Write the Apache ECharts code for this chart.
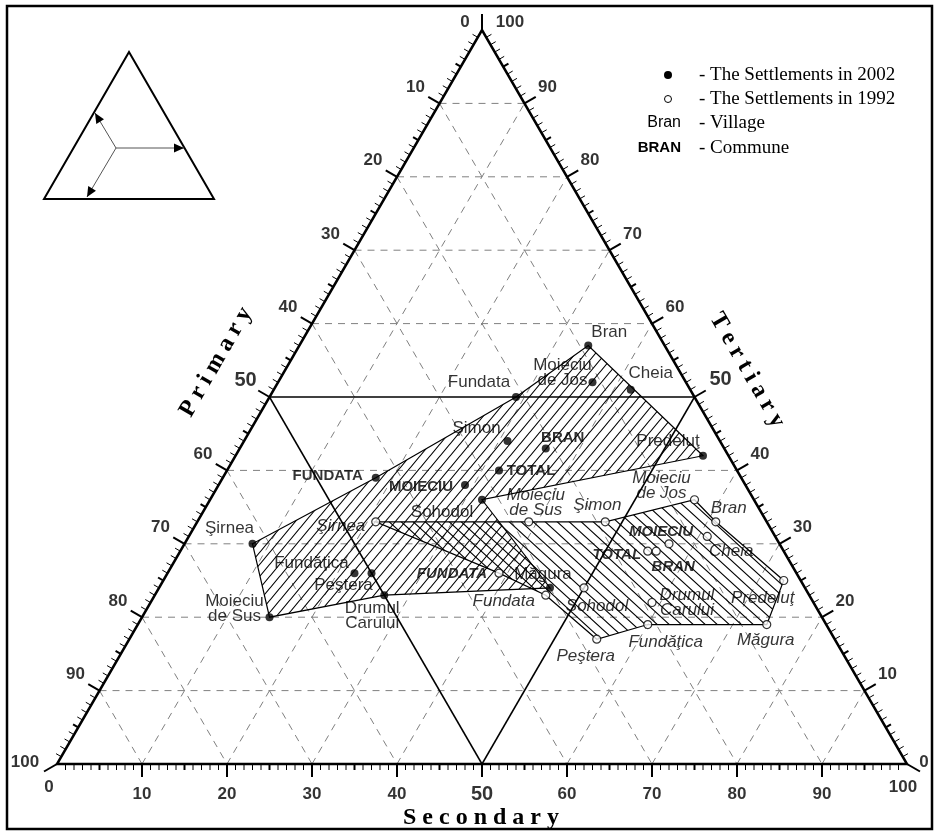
<!DOCTYPE html>
<html>
<head>
<meta charset="utf-8">
<title>Bran area settlements - ternary diagram</title>
<script src="https://cdn.jsdelivr.net/npm/echarts@6/dist/echarts.min.js"></script>
<style>
html,body{margin:0;padding:0;background:#fff;}
#chart{width:934px;height:832px;}
</style>
</head>
<body>
<div id="chart"></div>
<script>
// settlements in 2002 (share of active population, %)
var names2002 = ['Bran','Moieciu de Jos','Cheia','Fundata','Şimon','Predeluţ','Sohodol','Măgura','Drumul Carului','Peştera','Fundăţica','Moieciu de Sus','Şirnea','FUNDATA','MOIECIU','BRAN','TOTAL'];
var primary2002 = [9,11,7,21,25,3,32,30,50,50,52,65,62,43,33,21,28];
var secondary2002 = [34,37,42,29,31,55,32,46,27,24,22,15,8,18,29,36,32];
var tertiary2002 = [57,52,51,50,44,42,36,24,23,26,26,20,30,39,38,43,40];

// settlements in 1992
var names1992 = ['Şirnea','Moieciu de Sus','Şimon','Moieciu de Jos','Bran','Cheia','MOIECIU','TOTAL','BRAN','Predeluţ','Drumul Carului','Măgura','Fundăţica','Peştera','Sohodol','Fundata','FUNDATA'];
var primary1992 = [46,28,19,7,6,8,13,16,15,2,19,7,21,28,26,31,35];
var secondary1992 = [21,39,48,57,61,61,57,55,56,73,59,74,60,55,50,46,39];
var tertiary1992 = [33,33,33,36,33,31,30,29,29,25,22,19,19,17,24,23,26];

// outline of each cloud of points
var hull2002 = ['Fundata','Bran','Predeluţ','Sohodol','Măgura','Drumul Carului','Moieciu de Sus','Şirnea','FUNDATA'];
var hull1992 = ['Şirnea','Moieciu de Sus','Şimon','Moieciu de Jos','Bran','Predeluţ','Măgura','Fundăţica','Peştera','Fundata','FUNDATA'];

var gridValues = [10,20,30,40,50,60,70,80,90];
var tickValues = [10,20,30,40,50,60,70,80,90];

// label placement (pixels from the point)
var labelAt2002 = {
  'Bran':[21,-13], 'Moieciu de Jos':[-30,-10], 'Cheia':[20,-16], 'Fundata':[-37,-15],
  'Şimon':[-31,-13], 'Predeluţ':[-35,-14], 'Sohodol':[-40,13], 'Măgura':[-7,-14],
  'Drumul Carului':[-12,21], 'Peştera':[-28,12], 'Fundăţica':[-43,-10], 'Moieciu de Sus':[-35,-8],
  'Şirnea':[-23,-15], 'FUNDATA':[-48,-2], 'MOIECIU':[-44,2], 'BRAN':[17,-11], 'TOTAL':[32,0]
};
var labelAt1992 = {
  'Şirnea':[-35,4], 'Moieciu de Sus':[7,-19], 'Şimon':[-8,-17], 'Moieciu de Jos':[-33,-14],
  'Bran':[13,-14], 'Cheia':[24,15], 'MOIECIU':[-8,-12], 'TOTAL':[-31,4], 'BRAN':[17,16],
  'Predeluţ':[-21,18], 'Drumul Carului':[35,0], 'Măgura':[-1,16], 'Fundăţica':[18,18],
  'Peştera':[-11,17], 'Sohodol':[13,18], 'Fundata':[-42,6], 'FUNDATA':[-47,1]
};

var SANS = '"Liberation Sans", Arial, sans-serif';
var SERIF = '"Liberation Serif", "Times New Roman", serif';
var SQ = Math.sqrt(3) / 2;

// ternary (secondary, tertiary) -> cartesian
function tern(s, t) {
  return [s + t / 2, t * SQ];
}

function hatch(w, h, rising) {
  var c = document.createElement('canvas');
  c.width = w; c.height = h;
  var g = c.getContext('2d');
  g.strokeStyle = '#000';
  g.lineWidth = 1.1;
  g.beginPath();
  for (var k = -1; k <= 1; k++) {
    var dx = k * w;
    if (rising) {
      g.moveTo(-w + dx, 2 * h); g.lineTo(2 * w + dx, -h);
    } else {
      g.moveTo(-w + dx, -h); g.lineTo(2 * w + dx, 2 * h);
    }
  }
  g.stroke();
  return c;
}
var hatch2002 = hatch(10, 12, true);
var hatch1992 = hatch(12, 11, false);

function drawFrame(params, api) {
  var kids = [];
  function at(s, t) { return api.coord(tern(s, t)); }
  function line(a, b, style) {
    kids.push({ type: 'line', shape: { x1: a[0], y1: a[1], x2: b[0], y2: b[1] }, style: style });
  }
  var dashed = { stroke: '#808080', lineWidth: 1, lineDash: [7, 6] };
  var solid = { stroke: '#000', lineWidth: 1.5 };
  gridValues.forEach(function (k) {
    if (k === 50) {
      line(at(0, 50), at(50, 50), solid);
      line(at(0, 50), at(50, 0), solid);
      line(at(50, 0), at(50, 50), solid);
    } else {
      line(at(0, k), at(100 - k, k), dashed);
      line(at(0, 100 - k), at(100 - k, 0), dashed);
      line(at(k, 0), at(k, 100 - k), dashed);
    }
  });
  for (var i = 1; i < 100; i++) {
    var len = i % 10 === 0 ? 13 : 6;
    var st = { stroke: '#000', lineWidth: i % 5 === 0 ? 2 : 1 };
    var b = at(i, 0);
    line(b, [b[0], b[1] + len], st);
    var l = at(0, 100 - i);
    line(l, [l[0] - len * SQ, l[1] - len / 2], st);
    var r = at(100 - i, i);
    line(r, [r[0] + len * SQ, r[1] - len / 2], st);
  }
  var A = at(0, 0), B = at(100, 0), C = at(0, 100);
  var vt = { stroke: '#000', lineWidth: 2 };
  line(C, [C[0], C[1] - 16], vt);
  line(A, [A[0] - 15 * SQ, A[1] + 7.5], vt);
  line(B, [B[0] + 15 * SQ, B[1] + 7.5], vt);
  kids.push({ type: 'polygon', shape: { points: [A, B, C] }, style: { fill: 'none', stroke: '#000', lineWidth: 2.5 } });
  return { type: 'group', children: kids };
}

function hullSeries(names, hull, S, T, pattern) {
  return {
    type: 'custom',
    coordinateSystem: 'cartesian2d',
    silent: true,
    z: 2,
    data: [[0, 0]],
    renderItem: function (params, api) {
      var pts = hull.map(function (n) {
        var i = names.indexOf(n);
        return api.coord(tern(S[i], T[i]));
      });
      return {
        type: 'polygon',
        shape: { points: pts },
        style: { fill: { image: pattern, repeat: 'repeat' }, stroke: '#000', lineWidth: 1.2 }
      };
    }
  };
}

function pointSeries(name, names, S, T, offsets, filled) {
  return {
    type: 'scatter',
    name: name,
    symbol: 'circle',
    symbolSize: 8,
    z: 5,
    itemStyle: filled ? { color: '#000' } : { color: '#fff', borderColor: '#000', borderWidth: 1.2 },
    label: {
      show: true,
      position: 'inside',
      color: '#000',
      fontFamily: SANS,
      fontStyle: filled ? 'normal' : 'italic',
      lineHeight: 15,
      formatter: function (p) { return p.name.replace(' ', '\n'); }
    },
    data: names.map(function (n, i) {
      var commune = n === n.toUpperCase();
      return {
        name: n,
        value: tern(S[i], T[i]),
        label: { offset: offsets[n], fontWeight: commune ? 'bold' : 'normal', fontSize: commune ? 15 : 17 }
      };
    })
  };
}

var axisLabels = [];
function tickLabel(text, pos, off, big) {
  axisLabels.push({ name: text, value: pos, label: { offset: off, fontSize: big ? 20 : 17 } });
}
tickValues.forEach(function (k) {
  tickLabel(String(k), tern(k, 0), [0, 30], k === 50);
  tickLabel(String(k), tern(0, 100 - k), k === 50 ? [-24, -17] : [-24, -16], k === 50);
  tickLabel(String(k), tern(100 - k, k), k === 50 ? [26, -18] : [23, -16], k === 50);
});
tickLabel('0', tern(0, 0), [-8, 23]);
tickLabel('100', tern(100, 0), [-4, 23]);
tickLabel('100', tern(0, 0), [-32, -2]);
tickLabel('0', tern(100, 0), [17, -2]);
tickLabel('0', tern(0, 100), [-17, -8]);
tickLabel('100', tern(0, 100), [28, -8]);

function arrowHead(from, tip) {
  var dx = tip[0] - from[0], dy = tip[1] - from[1];
  var d = Math.sqrt(dx * dx + dy * dy);
  var ux = dx / d, uy = dy / d;
  var bx = tip[0] - ux * 10, by = tip[1] - uy * 10;
  return {
    type: 'polygon',
    shape: { points: [tip, [bx - uy * 4.5, by + ux * 4.5], [bx + uy * 4.5, by - ux * 4.5]] },
    style: { fill: '#000' }
  };
}

var insetCenter = [116, 148];
var insetTips = [[184, 148], [95, 113], [87, 197]];
var inset = [{
  type: 'polygon',
  shape: { points: [[44, 199], [214, 199], [129, 52]] },
  style: { fill: 'none', stroke: '#000', lineWidth: 2 }
}];
insetTips.forEach(function (tip) {
  inset.push({ type: 'line', shape: { x1: insetCenter[0], y1: insetCenter[1], x2: tip[0], y2: tip[1] }, style: { stroke: '#555', lineWidth: 1 } });
  inset.push(arrowHead(insetCenter, tip));
});

var legendRows = [
  { y: 75, mark: 'dot', text: '- The Settlements in 2002' },
  { y: 99, mark: 'ring', text: '- The Settlements in 1992' },
  { y: 123, mark: 'Bran', text: '- Village' },
  { y: 148, mark: 'BRAN', text: '- Commune' }
];
var legend = [];
legendRows.forEach(function (r) {
  if (r.mark === 'dot') {
    legend.push({ type: 'circle', shape: { cx: 668, cy: r.y, r: 4 }, style: { fill: '#000' } });
  } else if (r.mark === 'ring') {
    legend.push({ type: 'circle', shape: { cx: 668, cy: r.y, r: 3.5 }, style: { fill: '#fff', stroke: '#000', lineWidth: 1 } });
  } else {
    legend.push({ type: 'text', x: 681, y: r.y, style: { text: r.mark, align: 'right', verticalAlign: 'middle', fontFamily: SANS, fontSize: r.mark === 'BRAN' ? 15 : 16, fontWeight: r.mark === 'BRAN' ? 'bold' : 'normal', fill: '#000' } });
  }
  legend.push({ type: 'text', x: 699, y: r.y, style: { text: r.text, align: 'left', verticalAlign: 'middle', fontFamily: SERIF, fontSize: 19, fill: '#000' } });
});

var titles = [
  { type: 'text', x: 481, y: 818, style: { text: 'S e c o n d a r y', align: 'center', verticalAlign: 'middle', fontFamily: SERIF, fontWeight: 'bold', fontSize: 24, fill: '#000' } },
  { type: 'text', x: 216, y: 362, rotation: Math.PI / 3, style: { text: 'P r i m a r y', align: 'center', verticalAlign: 'middle', fontFamily: SERIF, fontWeight: 'bold', fontSize: 24, fill: '#000' } },
  { type: 'text', x: 747, y: 370, rotation: -Math.PI / 3, style: { text: 'T e r t i a r y', align: 'center', verticalAlign: 'middle', fontFamily: SERIF, fontWeight: 'bold', fontSize: 24, fill: '#000' } }
];

var chart = echarts.init(document.getElementById('chart'));
chart.setOption({
  animation: false,
  backgroundColor: '#fff',
  grid: { left: 57, right: 27, top: 30, bottom: 68 },
  xAxis: { type: 'value', min: 0, max: 100, show: false },
  yAxis: { type: 'value', min: 0, max: 100 * SQ, show: false },
  graphic: [
    { type: 'rect', shape: { x: 7, y: 6, width: 925, height: 823 }, style: { fill: 'none', stroke: '#000', lineWidth: 2.5 } },
    { type: 'group', children: inset },
    { type: 'group', children: legend },
    { type: 'group', children: titles }
  ],
  series: [
    { type: 'custom', coordinateSystem: 'cartesian2d', silent: true, z: 1, data: [[0, 0]], renderItem: drawFrame },
    hullSeries(names2002, hull2002, secondary2002, tertiary2002, hatch2002),
    hullSeries(names1992, hull1992, secondary1992, tertiary1992, hatch1992),
    pointSeries('2002', names2002, secondary2002, tertiary2002, labelAt2002, true),
    pointSeries('1992', names1992, secondary1992, tertiary1992, labelAt1992, false),
    {
      type: 'scatter',
      silent: true,
      symbolSize: 0,
      z: 6,
      label: { show: true, position: 'inside', formatter: '{b}', color: '#000', fontFamily: SANS, fontWeight: 'bold' },
      data: axisLabels
    }
  ]
});
</script>
</body>
</html>
